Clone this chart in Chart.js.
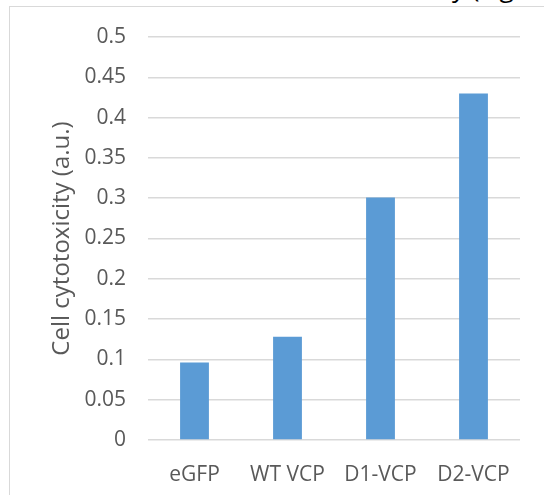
<!DOCTYPE html>
<html>
<head>
<meta charset="utf-8">
<script src="https://cdn.jsdelivr.net/npm/chart.js@4/dist/chart.umd.min.js"></script>
<style>
  html, body { margin: 0; padding: 0; background: #fff; overflow: hidden; }
  #wrap { position: relative; width: 544px; height: 495px; overflow: hidden; }
  #frame { position: absolute; left: 9px; top: 6px; width: 700px; height: 700px;
           border-left: 1.5px solid #d9d9d9; border-top: 1.5px solid #d9d9d9; }
  #frag { position: absolute; left: 452px; top: -26px; font: 26px/26px "Open Sans", sans-serif; color: #000; white-space: nowrap; }
  canvas { position: absolute; left: 0; top: 0; }
</style>
</head>
<body>
<div id="wrap">
  <div id="frag">y (Fig</div>
  <div id="frame"></div>
  <canvas id="c" width="544" height="495"></canvas>
</div>
<script>
const categories = ["eGFP", "WT VCP", "D1-VCP", "D2-VCP"];
const cytotoxicity = [0.096, 0.128, 0.301, 0.430];
const yTicks = [0, 0.05, 0.1, 0.15, 0.2, 0.25, 0.3, 0.35, 0.4, 0.45, 0.5];
const yTitle = "Cell cytotoxicity (a.u.)";

const FONT = "'Open Sans', sans-serif";
const GREY = "#595959";
const SIZE = 21;
const TITLE_SIZE = 24;

const titlePlugin = {
  id: "yTitleText",
  afterDraw(chart) {
    const ctx = chart.ctx;
    const a = chart.chartArea;
    ctx.save();
    ctx.translate(62, (a.top + a.bottom) / 2);
    ctx.rotate(-Math.PI / 2);
    ctx.font = TITLE_SIZE + "px " + FONT;
    ctx.fillStyle = GREY;
    ctx.textAlign = "center";
    ctx.textBaseline = "middle";
    ctx.fillText(yTitle, 0, 0);
    ctx.restore();
  }
};

new Chart(document.getElementById("c"), {
  type: "bar",
  data: {
    labels: categories,
    datasets: [{
      data: cytotoxicity,
      backgroundColor: "#5b9bd5",
      borderWidth: 0,
      categoryPercentage: 1,
      barPercentage: 0.31
    }]
  },
  plugins: [titlePlugin],
  options: {
    responsive: false,
    animation: false,
    events: [],
    layout: { padding: { left: 40, right: 24, top: 37, bottom: 0 } },
    plugins: { legend: { display: false }, tooltip: { enabled: false } },
    scales: {
      x: {
        grid: { display: false, drawTicks: false },
        border: { display: false },
        ticks: { color: GREY, font: { family: FONT, size: SIZE }, padding: 22, maxRotation: 0 },
        afterFit: s => { s.height = 55; }
      },
      y: {
        min: 0, max: 0.5,
        afterBuildTicks: s => { s.ticks = yTicks.map(v => ({ value: v })); },
        grid: { color: "#d9d9d9", lineWidth: 1.5, drawTicks: false },
        border: { display: false },
        ticks: { color: GREY, font: { family: FONT, size: SIZE }, padding: 22,
                 callback: v => String(v) },
        afterFit: s => { s.width = 108; }
      }
    }
  }
});
</script>
</body>
</html>
